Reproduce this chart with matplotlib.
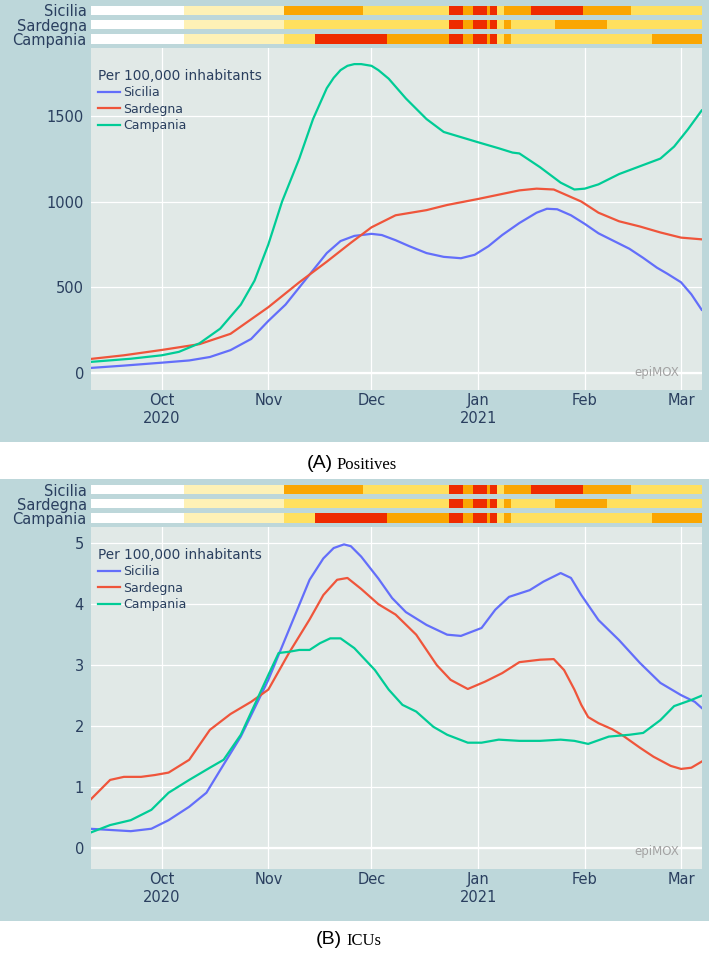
import matplotlib
matplotlib.use("Agg")
import matplotlib.pyplot as plt
import matplotlib.dates as mdates
import pandas as pd

# ---------------- data ----------------
regions = ["Sicilia", "Sardegna", "Campania"]
line_colors = ["#636efa", "#ef553b", "#00cc96"]

# Positives per 100,000 inhabitants
sic_pos_dates = ["2020-09-10","2020-09-20","2020-10-01","2020-10-09","2020-10-15","2020-10-21","2020-10-27",
                 "2020-11-01","2020-11-06","2020-11-10","2020-11-14","2020-11-18","2020-11-22","2020-11-26",
                 "2020-12-01","2020-12-04","2020-12-08","2020-12-12","2020-12-17","2020-12-22","2020-12-27",
                 "2020-12-31","2021-01-04","2021-01-08","2021-01-13","2021-01-18","2021-01-21","2021-01-24",
                 "2021-01-28","2021-02-01","2021-02-05","2021-02-09","2021-02-14","2021-02-18","2021-02-22",
                 "2021-02-25","2021-03-01","2021-03-04","2021-03-07"]
sic_pos = [31, 45, 62, 75, 95, 135, 200, 305, 400, 500, 600, 700, 770, 800, 812, 805, 775, 740, 700, 678, 670,
           690, 740, 805, 875, 935, 958, 955, 920, 870, 815, 775, 725, 672, 615, 580, 530, 460, 370]

sar_pos_dates = ["2020-09-10","2020-09-20","2020-10-01","2020-10-12","2020-10-21","2020-11-01","2020-11-10",
                 "2020-11-18","2020-11-25","2020-12-01","2020-12-08","2020-12-17","2020-12-23","2021-01-01",
                 "2021-01-07","2021-01-13","2021-01-18","2021-01-23","2021-01-31","2021-02-05","2021-02-11",
                 "2021-02-17","2021-02-23","2021-03-01","2021-03-07"]
sar_pos = [83, 105, 136, 170, 230, 385, 530, 650, 760, 850, 920, 950, 980, 1015, 1040, 1065, 1075, 1070,
           1000, 935, 885, 855, 820, 790, 780]

cam_pos_dates = ["2020-09-10","2020-09-22","2020-10-01","2020-10-06","2020-10-12","2020-10-18","2020-10-24",
                 "2020-10-28","2020-11-01","2020-11-05","2020-11-10","2020-11-14","2020-11-18","2020-11-20",
                 "2020-11-22","2020-11-24","2020-11-26","2020-11-28","2020-12-01","2020-12-03","2020-12-06",
                 "2020-12-11","2020-12-17","2020-12-22","2020-12-27","2021-01-01","2021-01-07","2021-01-11",
                 "2021-01-13","2021-01-19","2021-01-25","2021-01-29","2021-02-01","2021-02-05","2021-02-11",
                 "2021-02-17","2021-02-23","2021-02-27","2021-03-03","2021-03-07"]
cam_pos = [66, 85, 105, 125, 175, 260, 400, 540, 750, 1000, 1250, 1480, 1660, 1720, 1765, 1790, 1800, 1800,
           1790, 1765, 1715, 1600, 1480, 1405, 1375, 1345, 1310, 1285, 1280, 1200, 1110, 1070, 1075, 1100,
           1160, 1205, 1250, 1320, 1420, 1530]

# ICUs per 100,000 inhabitants
sic_icu_dates = ["2020-09-10","2020-09-22","2020-09-28","2020-10-03","2020-10-09","2020-10-14","2020-10-18",
                 "2020-10-24","2020-11-01","2020-11-07","2020-11-13","2020-11-17","2020-11-20","2020-11-23",
                 "2020-11-25","2020-11-28","2020-12-03","2020-12-07","2020-12-11","2020-12-17","2020-12-23",
                 "2020-12-27","2021-01-02","2021-01-06","2021-01-10","2021-01-16","2021-01-20","2021-01-25",
                 "2021-01-28","2021-01-31","2021-02-05","2021-02-11","2021-02-17","2021-02-23","2021-03-01",
                 "2021-03-05","2021-03-07"]
sic_icu = [0.32, 0.28, 0.32, 0.46, 0.68, 0.91, 1.28, 1.83, 2.76, 3.58, 4.40, 4.75, 4.92, 4.98, 4.95, 4.78,
           4.42, 4.10, 3.87, 3.66, 3.50, 3.48, 3.61, 3.91, 4.12, 4.23, 4.37, 4.51, 4.43, 4.15, 3.74, 3.41,
           3.04, 2.71, 2.51, 2.40, 2.30]

sar_icu_dates = ["2020-09-10","2020-09-16","2020-09-20","2020-09-25","2020-09-29","2020-10-03","2020-10-09",
                 "2020-10-15","2020-10-21","2020-10-27","2020-11-01","2020-11-07","2020-11-13","2020-11-17",
                 "2020-11-21","2020-11-24","2020-11-28","2020-12-03","2020-12-08","2020-12-14","2020-12-20",
                 "2020-12-24","2020-12-29","2021-01-03","2021-01-08","2021-01-13","2021-01-19","2021-01-23",
                 "2021-01-26","2021-01-29","2021-01-31","2021-02-02","2021-02-05","2021-02-09","2021-02-12",
                 "2021-02-17","2021-02-21","2021-02-26","2021-03-01","2021-03-04","2021-03-07"]
sar_icu = [0.78, 1.12, 1.17, 1.17, 1.20, 1.24, 1.45, 1.94, 2.20, 2.40, 2.60, 3.20, 3.75, 4.15, 4.40, 4.43,
           4.25, 4.00, 3.83, 3.50, 3.00, 2.76, 2.61, 2.73, 2.87, 3.05, 3.09, 3.10, 2.92, 2.60, 2.35, 2.15,
           2.05, 1.95, 1.85, 1.65, 1.50, 1.35, 1.30, 1.32, 1.42]

cam_icu_dates = ["2020-09-10","2020-09-16","2020-09-22","2020-09-28","2020-10-03","2020-10-09","2020-10-15",
                 "2020-10-19","2020-10-24","2020-10-28","2020-11-01","2020-11-04","2020-11-07","2020-11-10",
                 "2020-11-13","2020-11-16","2020-11-19","2020-11-22","2020-11-26","2020-12-02","2020-12-06",
                 "2020-12-10","2020-12-14","2020-12-19","2020-12-23","2020-12-29","2021-01-02","2021-01-07",
                 "2021-01-13","2021-01-19","2021-01-25","2021-01-29","2021-02-02","2021-02-08","2021-02-14",
                 "2021-02-18","2021-02-23","2021-02-27","2021-03-04","2021-03-07"]
cam_icu = [0.25, 0.38, 0.46, 0.63, 0.91, 1.12, 1.32, 1.45, 1.86, 2.35, 2.84, 3.20, 3.22, 3.25, 3.25, 3.36,
           3.44, 3.44, 3.28, 2.92, 2.60, 2.35, 2.24, 1.99, 1.86, 1.73, 1.73, 1.78, 1.76, 1.76, 1.78, 1.76,
           1.71, 1.83, 1.86, 1.89, 2.10, 2.33, 2.43, 2.50]

# Zone colours (first day of each period and its level)
sic_zone_starts = ["2020-09-10","2020-10-08","2020-11-06","2020-11-29","2020-12-24","2020-12-28","2020-12-31",
                   "2021-01-04","2021-01-05","2021-01-07","2021-01-09","2021-01-17","2021-02-01","2021-02-15"]
sic_zone_levels = ["none","pre","orange","yellow","red","orange","red","orange","red","yellow","orange",
                   "red","orange","yellow"]
sar_zone_starts = ["2020-09-10","2020-10-08","2020-11-06","2020-12-24","2020-12-28","2020-12-31","2021-01-04",
                   "2021-01-05","2021-01-07","2021-01-09","2021-01-11","2021-01-24","2021-02-08"]
sar_zone_levels = ["none","pre","yellow","red","orange","red","orange","red","yellow","orange","yellow",
                   "orange","yellow"]
cam_zone_starts = ["2020-09-10","2020-10-08","2020-11-06","2020-11-15","2020-12-06","2020-12-24","2020-12-28",
                   "2020-12-31","2021-01-04","2021-01-05","2021-01-07","2021-01-09","2021-01-11","2021-02-21"]
cam_zone_levels = ["none","pre","yellow","red","orange","red","orange","red","orange","red","yellow","orange",
                   "yellow","orange"]

zone_colors = {"none": "#ffffff", "pre": "#fef1b6", "yellow": "#ffe05f", "orange": "#faa602", "red": "#ee2b00"}

month_ticks = ["2020-10-01","2020-11-01","2020-12-01","2021-01-01","2021-02-01","2021-03-01"]
month_labels = ["Oct\n2020","Nov","Dec","Jan\n2021","Feb","Mar"]

# ---------------- layout ----------------
W, H = 709, 956
fig = plt.figure(figsize=(W / 100, H / 100), dpi=100)
fig.patch.set_facecolor("white")

BG = "#bdd7da"
PLOT_BG = "#e1e9e7"
TXT = "#2a3f5f"

def ax_px(x0, y0, x1, y1, z=1):
    a = fig.add_axes([x0 / W, 1 - y1 / H, (x1 - x0) / W, (y1 - y0) / H])
    a.set_zorder(z)
    return a

def bg_px(y0, y1):
    a = fig.add_axes([0, 1 - y1 / H, 1, (y1 - y0) / H])
    a.set_zorder(-5)
    a.set_facecolor(BG)
    a.set_xticks([])
    a.set_yticks([])
    for sp in a.spines.values():
        sp.set_visible(False)
    return a

oct1 = pd.Timestamp("2020-10-01")
x_start = mdates.date2num(oct1 - pd.Timedelta(days=20.56))
x_end = mdates.date2num(oct1 + pd.Timedelta(days=157.1))

def draw_strip(ax):
    zones = [(sic_zone_starts, sic_zone_levels), (sar_zone_starts, sar_zone_levels),
             (cam_zone_starts, cam_zone_levels)]
    for i, (starts, levels) in enumerate(zones):
        s = [mdates.date2num(pd.Timestamp(d)) - 0.5 for d in starts] + [x_end]
        for j, lev in enumerate(levels):
            ax.barh(i, s[j + 1] - s[j], left=s[j], height=0.65, color=zone_colors[lev], linewidth=0)
    ax.set_xlim(x_start, x_end)
    ax.set_ylim(2.5, -0.5)
    ax.set_facecolor("none")
    for sp in ax.spines.values():
        sp.set_visible(False)
    ax.set_xticks([])
    ax.set_yticks(range(len(regions)))
    ax.set_yticklabels(regions, fontsize=10.5, color=TXT)
    ax.tick_params(axis="y", length=0, pad=3)

def draw_main(ax, series, ylim, yticks, title_y):
    ax.set_facecolor(PLOT_BG)
    for (dates, vals), name, col in zip(series, regions, line_colors):
        ax.plot(pd.to_datetime(dates), vals, color=col, lw=1.6, label=name, zorder=3,
                solid_joinstyle="round")
    ax.set_xlim(x_start, x_end)
    ax.set_ylim(*ylim)
    ax.set_yticks(yticks)
    ax.set_xticks(pd.to_datetime(month_ticks))
    ax.set_xticklabels(month_labels, linespacing=1.25)
    ax.tick_params(axis="both", length=0, labelsize=10.5, labelcolor=TXT)
    ax.tick_params(axis="x", pad=2.5)
    ax.tick_params(axis="y", pad=5)
    ax.grid(True, color="white", lw=0.9, zorder=1)
    ax.axhline(0, color="white", lw=1.6, zorder=1)
    for sp in ax.spines.values():
        sp.set_visible(False)
    leg = ax.legend(title="Per 100,000 inhabitants", loc="upper left", bbox_to_anchor=(7 / 611, title_y),
                    frameon=False, fontsize=9, title_fontsize=9.8, alignment="left", handlelength=1.75,
                    handletextpad=0.25, labelspacing=0.28, borderaxespad=0.0, borderpad=0.0,
                    labelcolor=TXT)
    leg.get_title().set_color(TXT)
    ax.text(0.963, 0.052, "epiMOX", transform=ax.transAxes, ha="right", va="center",
            fontsize=8.5, color="#a3a3a3")

# Panel A
bg_px(0, 442)
ax_sa = ax_px(91, 3.2, 702, 46)
draw_strip(ax_sa)
ax_a = ax_px(91, 48.3, 702, 390)
draw_main(ax_a, [(sic_pos_dates, sic_pos), (sar_pos_dates, sar_pos), (cam_pos_dates, cam_pos)],
          (-97, 1892), [0, 500, 1000, 1500], 0.94)

# Panel B
bg_px(479, 921)
ax_sb = ax_px(91, 482.4, 702, 525)
draw_strip(ax_sb)
ax_b = ax_px(91, 527.3, 702, 869)
draw_main(ax_b, [(sic_icu_dates, sic_icu), (sar_icu_dates, sar_icu), (cam_icu_dates, cam_icu)],
          (-0.34, 5.26), [0, 1, 2, 3, 4, 5], 0.94)

# Captions
fig.text(333 / W, 1 - 464 / H, "(A)", ha="right", va="center", fontsize=14, family="Liberation Sans")
fig.text(337 / W, 1 - 465 / H, "Positives", ha="left", va="center", fontsize=12, family="Liberation Serif")
fig.text(342 / W, 1 - 940 / H, "(B)", ha="right", va="center", fontsize=14, family="Liberation Sans")
fig.text(346 / W, 1 - 941 / H, "ICUs", ha="left", va="center", fontsize=12, family="Liberation Serif")

fig.savefig("out.png", dpi=100)
